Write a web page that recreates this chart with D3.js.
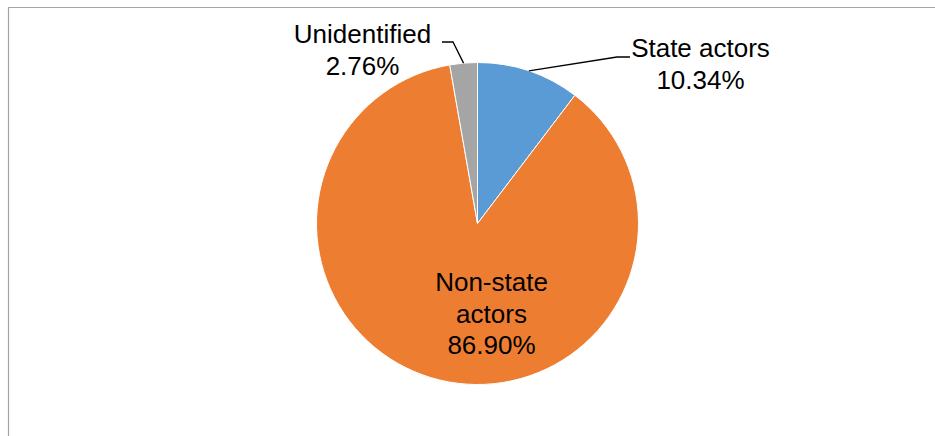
<html>
<head>
<meta charset="UTF-8">
<script src="https://cdnjs.cloudflare.com/ajax/libs/d3/7.8.5/d3.min.js"></script>
<style>
  body { margin: 0; background: #fff; }
  text { font-family: "Liberation Sans", Arial, sans-serif; font-size: 26px; fill: #000; }
</style>
</head>
<body>
<svg width="935" height="436"></svg>
<script>
// data
const categories = ["State actors", "Non-state actors", "Unidentified"];
const shares = [10.34, 86.90, 2.76];
const pctLabels = ["10.34%", "86.90%", "2.76%"];
const colors = ["#5B9BD5", "#ED7D31", "#A5A5A5"];

const svg = d3.select("svg");
const cx = 477.5, cy = 223.5, r = 161;

// frame (top + left edge only visible)
svg.append("path")
    .attr("d", "M8.5,436 V7.5 H935")
    .attr("fill", "none")
    .attr("stroke", "#a3a3a3")
    .attr("stroke-width", 1.2);

const pie = d3.pie().sort(null).value(d => d);
const arcs = pie(shares);
const arc = d3.arc().innerRadius(0).outerRadius(r);

const g = svg.append("g").attr("transform", "translate(" + cx + "," + cy + ")");

g.selectAll("path.slice")
    .data(arcs)
    .enter().append("path")
    .attr("class", "slice")
    .attr("d", arc)
    .attr("fill", (d, i) => colors[i])
    .attr("stroke", "#fff")
    .attr("stroke-width", 1);

// label layout, relative to the pie centre
const layout = [
  { lines: ["State actors"], tx: 223, ty: -166.5, anchor: "middle", elbow: [139.5, -166.5], end: [152.5, -166.5] },
  { lines: ["Non-state", "actors"], tx: 14, ty: 67.5, anchor: "middle" },
  { lines: ["Unidentified"], tx: -115, ty: -180.5, anchor: "middle", elbow: [-24.5, -181.5], end: [-35.5, -181.5] }
];

const outer = d3.arc().innerRadius(r).outerRadius(r);

arcs.forEach((d, i) => {
  const L = layout[i];
  if (L.elbow) {
    const p = outer.centroid(d);
    g.append("polyline")
        .attr("points", [p, L.elbow, L.end].map(q => q.join(",")).join(" "))
        .attr("fill", "none")
        .attr("stroke", "#000")
        .attr("stroke-width", 1.3);
  }
  const t = g.append("text")
      .attr("text-anchor", L.anchor)
      .attr("x", L.tx)
      .attr("y", L.ty);
  const all = L.lines.concat([pctLabels[i]]);
  all.forEach((s, k) => {
    t.append("tspan")
        .attr("x", L.tx)
        .attr("dy", k === 0 ? 0 : 31.5)
        .text(s);
  });
});
</script>
</body>
</html>
